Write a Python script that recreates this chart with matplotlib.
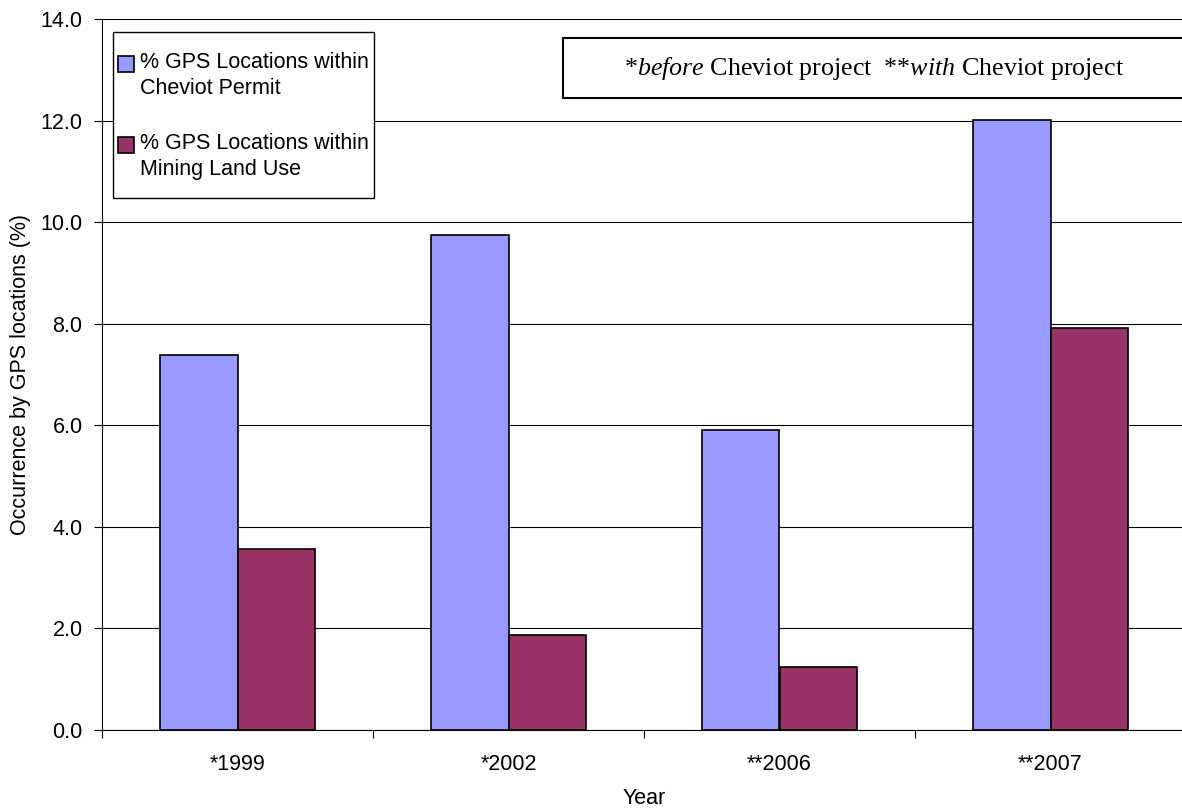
import numpy as np
import matplotlib.pyplot as plt
from matplotlib.patches import Rectangle
from matplotlib.container import BarContainer
from matplotlib.legend_handler import HandlerPatch, update_from_first_child

# Data
years = ['*1999', '*2002', '**2006', '**2007']
permit_pct = [7.38, 9.75, 5.90, 12.02]
mining_pct = [3.57, 1.88, 1.25, 7.92]
y_ticks = np.arange(0, 14.1, 2)

plt.rcParams['font.family'] = ['Liberation Sans', 'DejaVu Sans']
plt.rcParams['mathtext.fontset'] = 'custom'
plt.rcParams['mathtext.rm'] = 'Liberation Serif'
plt.rcParams['mathtext.it'] = 'Liberation Serif:italic'

fig = plt.figure(figsize=(11.82, 8.09), dpi=100)
ax = fig.add_axes([102/1182, 79/809, 1084/1182, 711/809])

x = np.arange(len(years))
w = 0.287
ax.bar(x - w/2, permit_pct, w, color='#9999ff', edgecolor='black', linewidth=1.2,
       label='% GPS Locations within\nCheviot Permit', zorder=3)
ax.bar(x + w/2, mining_pct, w, color='#993366', edgecolor='black', linewidth=1.2,
       label='% GPS Locations within\nMining Land Use', zorder=3)

ax.set_xlim(-0.5, len(years) - 0.5)
ax.set_ylim(0, 14)
ax.set_yticks(y_ticks)
ax.set_yticklabels([f'{v:.1f}' for v in y_ticks], fontsize=15.5)
ax.yaxis.grid(True, color='black', linewidth=0.8, zorder=0)

# category ticks at boundaries, labels in centres
ax.set_xticks(np.arange(len(years) + 1) - 0.5)
ax.set_xticklabels([])
ax.set_xticks(x, minor=True)
ax.set_xticklabels(years, minor=True, fontsize=15.5)
ax.tick_params(axis='x', which='minor', length=0, pad=17)
ax.tick_params(axis='x', which='major', length=6, direction='out')
ax.tick_params(axis='y', length=6, direction='out', pad=8)

for s in ['top', 'right']:
    ax.spines[s].set_visible(False)

ax.set_xlabel('Year', fontsize=15.5, labelpad=10)
ax.set_ylabel('Occurrence by GPS locations (%)', fontsize=15.5, labelpad=7)


# legend swatch sits next to the first line of a two-line label
def top_swatch(legend, orig_handle, xdescent, ydescent, width, height, fontsize):
    return Rectangle((-xdescent, -ydescent + 0.55 * fontsize), width, height)


leg = ax.legend(loc='upper left', bbox_to_anchor=(118/1182, 1 - 52/809),
                bbox_transform=fig.transFigure, fontsize=15.5, frameon=False,
                handlelength=0.75, handleheight=0.75, handletextpad=0.25,
                labelspacing=1.6, borderpad=0, borderaxespad=0,
                handler_map={BarContainer: HandlerPatch(patch_func=top_swatch,
                                                        update_func=update_from_first_child)})
for t in leg.get_texts():
    t.set_linespacing(1.3)
leg.set_zorder(7)

# legend frame
ax.add_patch(Rectangle((113/1182, 1 - 198/809), 261/1182, 166/809,
                       transform=fig.transFigure, facecolor='white',
                       edgecolor='black', linewidth=1.0, zorder=4, clip_on=False))

# note box, partly running off the right edge
ax.add_patch(Rectangle((563/1182, 1 - 98/809), 0.55, 60/809,
                       transform=fig.transFigure, facecolor='white',
                       edgecolor='black', linewidth=1.5, zorder=5, clip_on=False))
ax.text(874/1182, 1 - 69/809,
        r'*$\it{before}$ Cheviot project  **$\it{with}$ Cheviot project',
        transform=fig.transFigure, ha='center', va='center', fontsize=18.7,
        family='Liberation Serif', zorder=6)

plt.savefig('out.png', dpi=100)
